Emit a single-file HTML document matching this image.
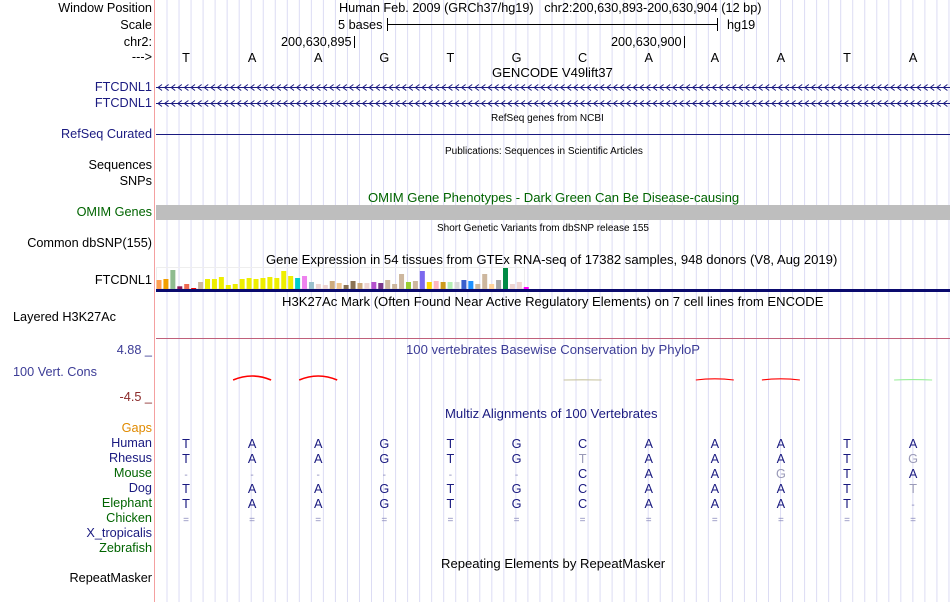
<!DOCTYPE html>
<html><head><meta charset="utf-8"><style>
body{margin:0;background:#fff;}
#c{position:relative;width:950px;height:602px;overflow:hidden;font-family:"Liberation Sans",sans-serif;font-size:12.7px;color:#000;}
.l{position:absolute;right:798px;white-space:nowrap;text-align:right;line-height:14px;}
.t{position:absolute;white-space:nowrap;line-height:14px;}
.tt{font-size:13.1px;}
.sm{font-size:10px;}
</style></head><body>
<div id="c">
<svg id="grid" width="950" height="602" style="position:absolute;left:0;top:0"></svg>

<div class="l" style="top:1px">Window Position</div>
<div class="l" style="top:18px">Scale</div>
<div class="l" style="top:35px">chr2:</div>
<div class="l" style="top:50px">---&gt;</div>
<div class="l" style="top:80px;color:#1a1a80">FTCDNL1</div>
<div class="l" style="top:96px;color:#1a1a80">FTCDNL1</div>
<div class="l" style="top:127px;color:#1a1a80">RefSeq Curated</div>
<div class="l" style="top:158px">Sequences</div>
<div class="l" style="top:174px">SNPs</div>
<div class="l" style="top:205px;color:#006400">OMIM Genes</div>
<div class="l" style="top:236px">Common dbSNP(155)</div>
<div class="l" style="top:273px">FTCDNL1</div>
<div class="t" style="top:310px;left:13px">Layered H3K27Ac</div>
<div class="l" style="top:343px;color:#3c3c96">4.88 _</div>
<div class="t" style="top:365px;left:13px;color:#3c3c96">100 Vert. Cons</div>
<div class="l" style="top:390px;color:#8b2a2a">-4.5 _</div>
<div class="l" style="top:421px;color:#e08a00">Gaps</div>
<div class="l" style="top:436px;color:#1a1a80">Human</div>
<div class="l" style="top:451px;color:#1a1a80">Rhesus</div>
<div class="l" style="top:466px;color:#006400">Mouse</div>
<div class="l" style="top:481px;color:#1a1a80">Dog</div>
<div class="l" style="top:496px;color:#006400">Elephant</div>
<div class="l" style="top:511px;color:#006400">Chicken</div>
<div class="l" style="top:526px;color:#1a1a80">X_tropicalis</div>
<div class="l" style="top:541px;color:#006400">Zebrafish</div>
<div class="l" style="top:571px">RepeatMasker</div>

<div class="t" style="top:1px;left:339px">Human Feb. 2009 (GRCh37/hg19)&nbsp;&nbsp;&nbsp;chr2:200,630,893-200,630,904 (12 bp)</div>
<div class="t" style="top:18px;left:338px">5 bases</div>
<div class="t" style="top:18px;left:727px">hg19</div>
<div class="t" style="top:35px;left:281px">200,630,895</div>
<div class="t" style="top:35px;left:611px">200,630,900</div>
<div class="t tt" style="top:66px;left:492px">GENCODE V49lift37</div>
<div class="t sm" style="top:112px;left:491px">RefSeq genes from NCBI</div>
<div class="t sm" style="top:145px;left:445px">Publications: Sequences in Scientific Articles</div>
<div class="t tt" style="top:191px;left:368px;color:#006400">OMIM Gene Phenotypes - Dark Green Can Be Disease-causing</div>
<div class="t sm" style="top:222px;left:437px">Short Genetic Variants from dbSNP release 155</div>
<div class="t tt" style="top:253px;left:266px">Gene Expression in 54 tissues from GTEx RNA-seq of 17382 samples, 948 donors (V8, Aug 2019)</div>
<div class="t tt" style="top:295px;left:282px">H3K27Ac Mark (Often Found Near Active Regulatory Elements) on 7 cell lines from ENCODE</div>
<div class="t tt" style="top:343px;left:406px;color:#3c3c96">100 vertebrates Basewise Conservation by PhyloP</div>
<div class="t tt" style="top:407px;left:445px;color:#1a1a80">Multiz Alignments of 100 Vertebrates</div>
<div class="t tt" style="top:557px;left:441px">Repeating Elements by RepeatMasker</div>

<svg id="marks" width="950" height="602" style="position:absolute;left:0;top:0"></svg>
</div>
<script>
const bases=["T","A","A","G","T","G","C","A","A","A","T","A"];
const rhesus=["T","A","A","G","T","G","T","A","A","A","T","G"];
const mouse=["-","-","-","-","-","-","C","A","A","G","T","A"];
const dog=["T","A","A","G","T","G","C","A","A","A","T","T"];
const elephant=["T","A","A","G","T","G","C","A","A","A","T","-"];
const chicken=["=","=","=","=","=","=","=","=","=","=","=","="];
const gtexValues=[9,10,19,2.7,5,1,7,10,10,12,4,5,10,11,10,11,12,11,18,13,11,13,7,5,4,8,6,4,8,6,6,7,6,9,5,15,7,8,18,7,8,7,7,7,9,8,5,15,5,9,21,5,7,2];
const gtexColors=["#ff9f4f","#f29f00","#8fbc8f","#8b1a5b","#ee6a50","#ee0000","#cdb79e","#eeee00","#eeee00","#eeee00","#eeee00","#eeee00","#eeee00","#eeee00","#eeee00","#eeee00","#eeee00","#eeee00","#eeee00","#eeee00","#00cdcd","#ee82ee","#9ac0cd","#eed5d2","#eed5d2","#cdaa7d","#eec591","#8b7355","#8b7355","#cdaa7d","#eed5d2","#b452cd","#7a378b","#cdb79e","#cdb79e","#cdb79e","#9acd32","#cdb79e","#7b68ee","#ffd700","#ffb6c1","#cd9b1d","#b4eeb4","#d9d9d9","#3a5fcd","#1e90ff","#cdb79e","#cdb79e","#ffd39b","#a6a6a6","#008b45","#eed5d2","#eed5d2","#ff00ff"];
const consBase=[1,2,6,8,9,11];
const consVal=[1.0,1.0,0.05,0.3,0.3,0.1];
const consColor=["#ff0000","#ff0000","#c8c4a0","#ff0000","#ff0000","#99ee99"];

const NS="http://www.w3.org/2000/svg";
const bw=66.1;
const bx=i=>186+i*bw;
function mk(par,tag,a){const e=document.createElementNS(NS,tag);for(const k in a)e.setAttribute(k,a[k]);par.appendChild(e);return e;}
const g=document.getElementById('grid');
for(let x=167;x<950;x+=12.03){const l=mk(g,'line',{x1:x,x2:x,y1:0,y2:602,stroke:'#dcdcf4','stroke-width':1});

}
const pl=mk(g,'line',{x1:154.5,x2:154.5,y1:0,y2:602,stroke:'#f4a0a0'});



const m=document.getElementById('marks');
function txt(x,y,s,fill,name,size){const t=mk(m,'text',{x:x,y:y,'text-anchor':'middle',fill:fill,'font-size':size||12.7,'font-family':'Liberation Sans, sans-serif'});t.textContent=s;

return t;}
mk(m,'line',{x1:387,x2:718,y1:24.5,y2:24.5,stroke:'#000'});
mk(m,'line',{x1:387.5,x2:387.5,y1:18,y2:31,stroke:'#000'});
mk(m,'line',{x1:717.5,x2:717.5,y1:18,y2:31,stroke:'#000'});
mk(m,'line',{x1:354.5,x2:354.5,y1:36,y2:48,stroke:'#000'});
mk(m,'line',{x1:684.5,x2:684.5,y1:36,y2:48,stroke:'#000'});
bases.forEach((b,i)=>txt(bx(i),62,b,'#000','base-'+i));
[87,103].forEach((y,k)=>{const gl=mk(m,'line',{x1:156,x2:950,y1:y+0.5,y2:y+0.5,stroke:'#1a1a80'});


let d='';for(let x=158;x<948;x+=6.6)d+=`M${x+4},${y-2.5}L${x},${y+0.5}L${x+4},${y+3.5}`;
mk(m,'path',{d:d,stroke:'#1a1a80',fill:'none','stroke-width':1});});
const rs=mk(m,'line',{x1:156,x2:950,y1:134.5,y2:134.5,stroke:'#1a1a80'});


const om=mk(m,'rect',{x:156,y:205,width:794,height:15,fill:'#bebebe'});


mk(m,'rect',{x:156.5,y:267.5,width:368,height:21,fill:'none',stroke:'#eeeeee'});
const gb=289, gs=1.0;
gtexValues.forEach((v,i)=>{const h=v*gs;const r=mk(m,'rect',{x:156.5+i*6.93,y:gb-h,width:5,height:h,fill:gtexColors[i]});

});
mk(m,'rect',{x:156,y:289,width:794,height:3,fill:'#0a0a6e'});
mk(m,'line',{x1:156,x2:950,y1:338.5,y2:338.5,stroke:'#c0607a'});
const cy=380,cs=4;
consBase.forEach((b,i)=>{const c=bx(b),v=consVal[i]*cs;
const p=mk(m,'path',{d:`M${c-19},${cy}Q${c},${cy-v*2} ${c+19},${cy}`,stroke:consColor[i],fill:'none','stroke-width':consVal[i]>0.5?1.6:1.1});

});
const rows=[[bases,448],[rhesus,463],[mouse,478],[dog,493],[elephant,508],[chicken,523]];
rows.forEach(([arr,y],r)=>arr.forEach((b,i)=>{const same=b===bases[i]&&b!=='-';const f=(b==='-'||b==='=')?'#8888bb':(same?'#1a1a80':'#9a9ab8');
txt(bx(i),y,b,f,'multiz-'+r+'-'+i,(b==='='||b==='-')?10:12.7);}));
</script>
</body></html>
